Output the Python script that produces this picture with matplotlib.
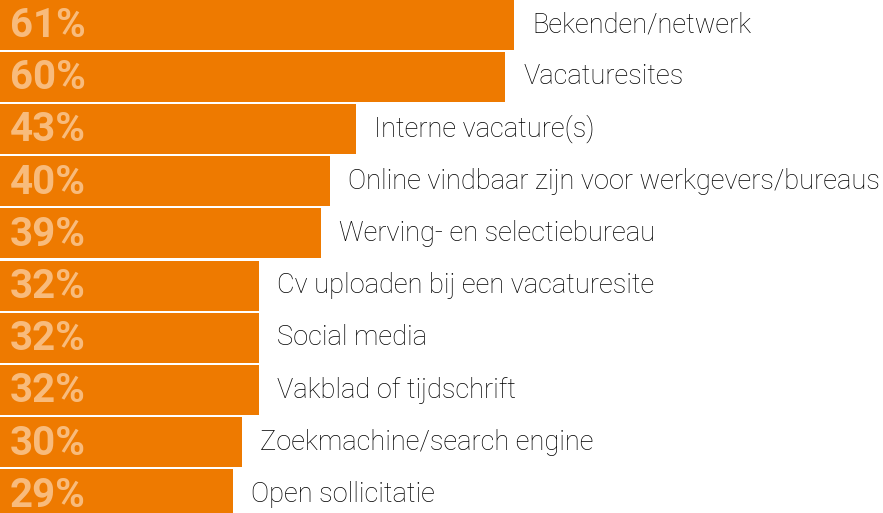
import matplotlib
matplotlib.use('Agg')
from matplotlib import pyplot as plt

categories = [
	'Bekenden/netwerk',
	'Vacaturesites',
	'Interne vacature(s)',
	'Online vindbaar zijn voor werkgevers/bureaus',
	'Werving- en selectiebureau',
	'Cv uploaden bij een vacaturesite',
	'Social media',
	'Vakblad of tijdschrift',
	'Zoekmachine/search engine',
	'Open sollicitatie',
]
percent_labels = ['61%', '60%', '43%', '40%', '39%', '32%', '32%', '32%', '30%', '29%']
values = [61, 60, 43, 40, 39, 32, 32, 32, 30, 29]

bar_color = '#EE7A00'
pct_color = '#F8BB7C'
text_color = '#000000'

fig = plt.figure(figsize=(8.83, 5.13), dpi=100)
ax = fig.add_axes([0, 0, 1, 1])

positions = list(range(len(values)))
ax.barh(positions, values, height=0.96, color=bar_color, left=0)

for pos, val, cat, pct in zip(positions, values, categories, percent_labels):
	# percentage inside bar
	ax.annotate(pct, xy=(0, pos), xycoords=('axes fraction', 'data'),
				xytext=(7, -1), textcoords='offset points',
				ha='left', va='center', fontsize=29, fontweight='bold',
				color=pct_color, family='Roboto')
	# category label after bar
	ax.annotate(cat, xy=(val, pos), xytext=(13, 0), textcoords='offset points',
				ha='left', va='center', fontsize=19.6, color=text_color,
				family='Roboto', fontweight='light')

ax.set_xlim(2.46, 103.0)
ax.set_ylim(9.354, -0.47)
ax.axis('off')

plt.savefig('out.png', dpi=100)
